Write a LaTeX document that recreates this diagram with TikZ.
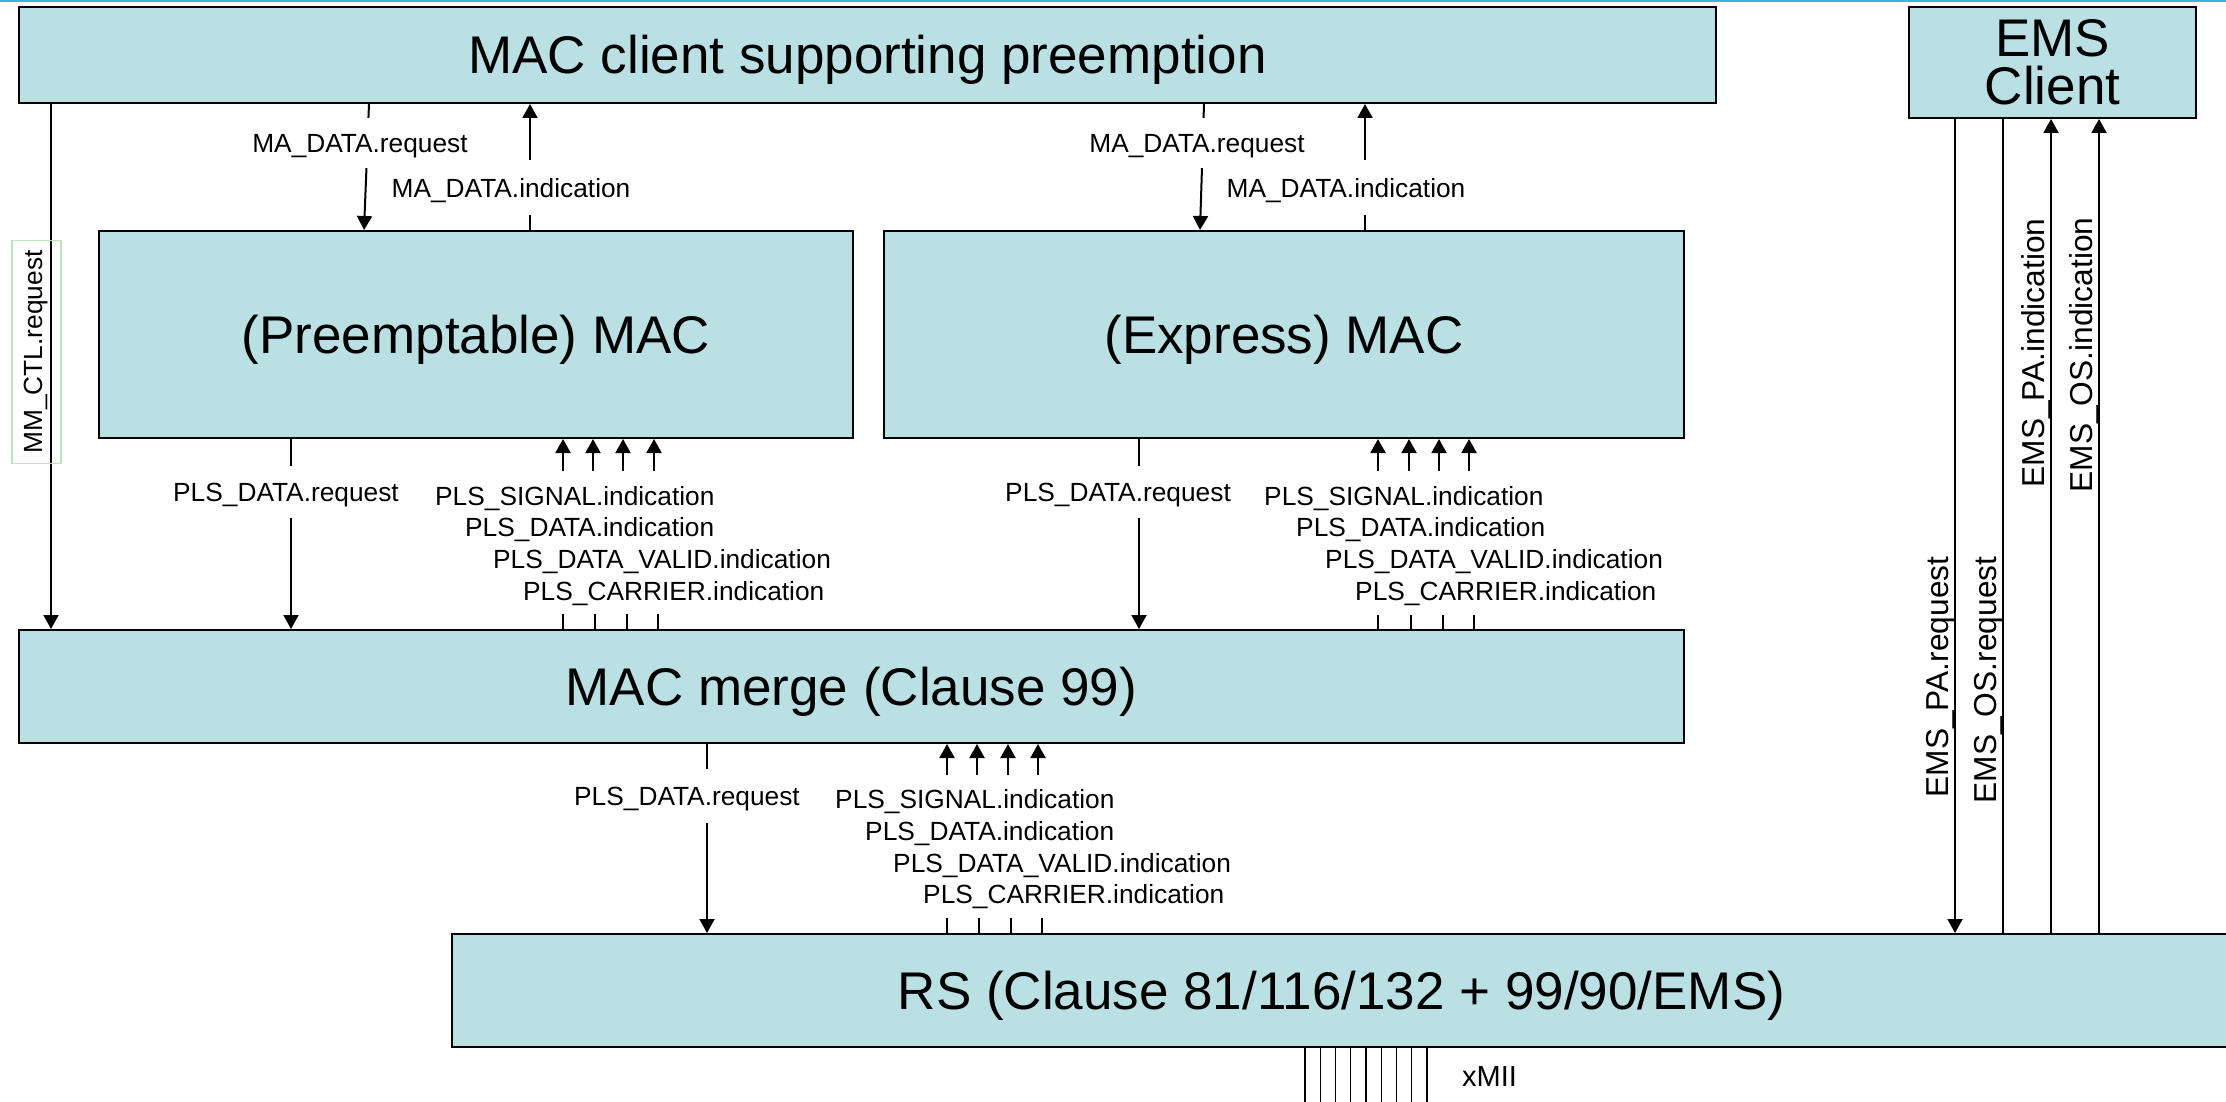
\documentclass[tikz,border=0pt]{standalone}
\usepackage{fontspec}
\setmainfont{Liberation Sans}
\usetikzlibrary{arrows.meta,calc}
\definecolor{boxfill}{RGB}{186,224,227}
\definecolor{topline}{RGB}{51,181,229}
\definecolor{greenbox}{RGB}{184,230,184}
\begin{document}
\begin{tikzpicture}[x=1pt,y=-1pt,
  box/.style={draw=black, line width=2pt, fill=boxfill, inner sep=0pt, anchor=north west, font=\fontsize{53}{50}\selectfont, text height=38pt, text depth=0pt},
  conn/.style={line width=2pt},
  arr/.style={conn, -{Triangle[length=14pt,width=15pt]}},
  lbl/.style={font=\fontsize{26.3}{30}\selectfont, inner sep=0pt, text height=19pt, text depth=0pt},
  cut/.style={lbl, fill=white, minimum height=52pt},
  grp/.style={lbl, anchor=west},
  emslbl/.style={font=\fontsize{31.7}{34}\selectfont, inner sep=0pt, rotate=90, anchor=base},
  wire/.style={line width=1.3pt}
]
\useasboundingbox (0,0) rectangle (2226,1102);
\clip (0,0) rectangle (2226,1102);
\fill[white] (0,0) rectangle (2226,1102);
\draw[topline, line width=2pt] (0,0.8) -- (2226,0.8);

% boxes
\node[box, minimum width=1697pt, minimum height=96pt] (client) at (18,6) {MAC client supporting preemption};
\node[box, minimum width=287pt, minimum height=111pt, align=center, font=\fontsize{53}{48}\selectfont, text height=, text depth=] (ems) at (1908,6) {EMS\\Client};
\node[box, minimum width=754pt, minimum height=207pt] (pre) at (98,230) {(Preemptable) MAC};
\node[box, minimum width=800pt, minimum height=207pt] (exp) at (883,230) {(Express) MAC};
\node[box, minimum width=1665pt, minimum height=113pt] (merge) at (18,629) {MAC merge (Clause 99)};
\node[box, minimum width=1779pt, minimum height=113pt] (rs) at (451,933) {RS (Clause 81/116/132 + 99/90/EMS)};

% x positions
\path (51,0) coordinate (xmm)
      (369,0) coordinate (xa1) (364,0) coordinate (xa2) (530,0) coordinate (xb)
      (1204,0) coordinate (xc1) (1200,0) coordinate (xc2) (1365,0) coordinate (xd)
      (291,0) coordinate (xp) (1139,0) coordinate (xq) (707,0) coordinate (xr)
      (1955,0) coordinate (xe1) (2003,0) coordinate (xe2) (2051,0) coordinate (xe3) (2099,0) coordinate (xe4);

% MM_CTL.request
\draw[arr] (client.south -| xmm) -- (merge.north -| xmm);
\node[lbl, text height=, text depth=, draw=greenbox, line width=1.5pt, rotate=90, minimum width=223pt, minimum height=49pt] (mmctl) at (36.5,352) {MM\_CTL.request};

% MA_DATA
\draw[arr] (client.south -| xa1) -- (pre.north -| xa2);
\node[cut, minimum height=50pt] (mareqL) at (360,143) {MA\_DATA.request};
\draw[arr] (pre.north -| xb) -- (client.south -| xb);
\node[cut, minimum height=55pt] (maindL) at (511,187.5) {MA\_DATA.indication};
\draw[arr] (client.south -| xc1) -- (exp.north -| xc2);
\node[cut, minimum height=50pt] (mareqR) at (1197,143) {MA\_DATA.request};
\draw[arr] (exp.north -| xd) -- (client.south -| xd);
\node[cut, minimum height=55pt] (maindR) at (1346,187.5) {MA\_DATA.indication};

% PLS_DATA.request
\draw[arr] (pre.south -| xp) -- (merge.north -| xp);
\node[cut] (plsreqP) at (286,492) {PLS\_DATA.request};
\draw[arr] (exp.south -| xq) -- (merge.north -| xq);
\node[cut] (plsreqE) at (1118,492) {PLS\_DATA.request};
\draw[arr] (merge.south -| xr) -- (rs.north -| xr);
\node[cut, minimum height=54pt] (plsreqM) at (687,796) {PLS\_DATA.request};

% indication groups: preemptable
\foreach \a/\s in {563/563, 593/595, 623/627, 654/658}{
  \draw[arr] ($(pre.south west)+(\a-98,32)$) -- ($(pre.south west)+(\a-98,0)$);
  \draw[conn] ($(merge.north west)+(\s-18,0)$) -- ++(0,-15);
}
\node[grp] (p1) at (435,496) {PLS\_SIGNAL.indication};
\node[grp] (p2) at (465,527) {PLS\_DATA.indication};
\node[grp] (p3) at (493,559) {PLS\_DATA\_VALID.indication};
\node[grp] (p4) at (523,591) {PLS\_CARRIER.indication};

% express
\foreach \a/\s in {1378/1378, 1409/1411, 1439/1443, 1469/1474}{
  \draw[arr] ($(exp.south west)+(\a-883,32)$) -- ($(exp.south west)+(\a-883,0)$);
  \draw[conn] ($(merge.north west)+(\s-18,0)$) -- ++(0,-14);
}
\node[grp] (e1) at (1264,496) {PLS\_SIGNAL.indication};
\node[grp] (e2) at (1296,527) {PLS\_DATA.indication};
\node[grp] (e3) at (1325,559) {PLS\_DATA\_VALID.indication};
\node[grp] (e4) at (1355,591) {PLS\_CARRIER.indication};

% merge -> RS
\foreach \a/\s in {947/947, 977/979, 1008/1011, 1038/1042}{
  \draw[arr] ($(merge.south west)+(\a-18,31)$) -- ($(merge.south west)+(\a-18,0)$);
  \draw[conn] ($(rs.north west)+(\s-451,0)$) -- ++(0,-15);
}
\node[grp] (m1) at (835,799) {PLS\_SIGNAL.indication};
\node[grp] (m2) at (865,831) {PLS\_DATA.indication};
\node[grp] (m3) at (893,863) {PLS\_DATA\_VALID.indication};
\node[grp] (m4) at (923,894) {PLS\_CARRIER.indication};

% EMS
\draw[arr] (ems.south -| xe1) -- (rs.north -| xe1);
\draw[conn] (ems.south -| xe2) -- (rs.north -| xe2);
\draw[arr] (rs.north -| xe3) -- (ems.south -| xe3);
\draw[arr] (rs.north -| xe4) -- (ems.south -| xe4);
\node[emslbl] (emsl1) at (1948,677) {EMS\_PA.request};
\node[emslbl] (emsl2) at (1996,680) {EMS\_OS.request};
\node[emslbl] (emsl3) at (2044,353) {EMS\_PA.indication};
\node[emslbl] (emsl4) at (2092,355) {EMS\_OS.indication};

% xMII
\foreach \i in {0,...,8}{
  \draw[wire] ($(rs.south west)+(854+15.25*\i,0)$) -- ++(0,60);
}
\node[lbl, font=\fontsize{29}{30}\selectfont, anchor=west, text height=, text depth=] (xmii) at (1462,1077) {xMII};
\end{tikzpicture}
\end{document}
